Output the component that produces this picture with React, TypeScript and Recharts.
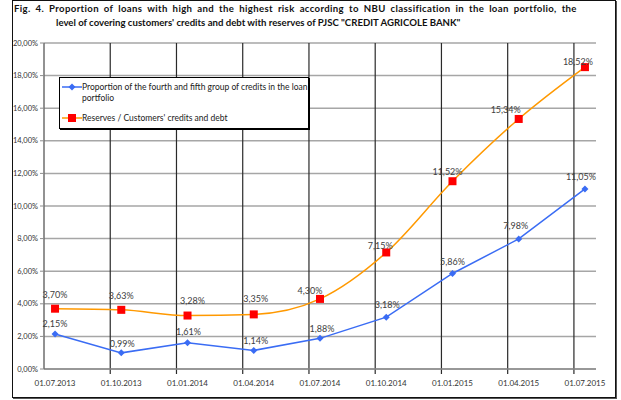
import React from "react";
import {
  LineChart,
  Line,
  XAxis,
  YAxis,
  CartesianGrid,
  ReferenceLine,
  LabelList,
} from "recharts";

const dates = [
  "01.07.2013",
  "01.10.2013",
  "01.01.2014",
  "01.04.2014",
  "01.07.2014",
  "01.10.2014",
  "01.01.2015",
  "01.04.2015",
  "01.07.2015",
];
const problemShare = [2.15, 0.99, 1.61, 1.14, 1.88, 3.18, 5.86, 7.98, 11.05];
const reserveRatio = [3.7, 3.63, 3.28, 3.35, 4.3, 7.15, 11.52, 15.34, 18.52];
const yTicks = [0, 2, 4, 6, 8, 10, 12, 14, 16, 18, 20];

const TITLE_1 = "Fig. 4. Proportion of loans with high and the highest risk according to NBU classification in the loan portfolio, the";
const TITLE_2 = "level of covering customers' credits and debt with reserves of PJSC \"CREDIT AGRICOLE BANK\"";
const SERIES_A = "Proportion of the fourth and fifth group of credits in the loan portfolio";
const SERIES_B = "Reserves / Customers' credits and debt";

// label nudges (px) relative to each point, to mimic the hand-placed Excel labels
const blueShift = [[0, -9], [1, -8], [1, -10], [2, -9], [2, -9], [1, -11], [0, -11], [-3, -12], [-4, -11]];
const orangeShift = [[0, -13], [0, -13], [5, -14], [2, -15], [-10, -7], [-6, -6], [-5, -9], [-13, -8], [-7, -4]];

const data = dates.map((d, i) => ({
  idx: i,
  date: d,
  a: problemShare[i],
  b: reserveRatio[i],
}));

const FONT = "Lato, 'Liberation Sans', sans-serif";
const pct = (v: number) => v.toFixed(2).replace(".", ",") + "%";
const off = 1 / 6;

const Diamond = (props: any) => {
  const { cx, cy } = props;
  if (cx == null || cy == null) return null;
  return <path d={`M${cx},${cy - 3.5}L${cx + 3.5},${cy}L${cx},${cy + 3.5}L${cx - 3.5},${cy}Z`} fill="#3a6cf4" />;
};

const Square = (props: any) => {
  const { cx, cy } = props;
  if (cx == null || cy == null) return null;
  return <rect x={cx - 4} y={cy - 4} width={8} height={8} fill="#ff0000" />;
};

const makeLabel = (shift: number[][]) => (props: any) => {
  const { x, y, index, value } = props;
  const [dx, dy] = shift[index] || [0, -10];
  return (
    <text
      x={x + dx}
      y={y + dy}
      textAnchor="middle"
      dominantBaseline="middle"
      fontSize={9}
      fontFamily={FONT}
      fill="#404040"
    >
      {pct(value)}
    </text>
  );
};

const LegendBox = () => (
  <div
    style={{
      position: "absolute",
      left: 59,
      top: 77,
      width: 250,
      height: 52,
      border: "1px solid #000",
      boxShadow: "1px 1px 0 #000",
      background: "#fff",
      fontFamily: FONT,
      fontSize: 8.5,
      color: "#222",
      boxSizing: "border-box",
    }}
  >
    <svg width={22} height={50} style={{ position: "absolute", left: 1, top: 0 }}>
      <line x1={1} y1={9} x2={21} y2={9} stroke="#3a6cf4" strokeWidth={1.5} />
      <path d="M11,5.5L14.5,9L11,12.5L7.5,9Z" fill="#3a6cf4" />
      <line x1={1} y1={40} x2={21} y2={40} stroke="#ff9900" strokeWidth={1.5} />
      <rect x={7} y={36} width={8} height={8} fill="#ff0000" />
    </svg>
    <div style={{ position: "absolute", left: 22, top: 4, width: 226, lineHeight: "11px" }}>{SERIES_A}</div>
    <div style={{ position: "absolute", left: 22, top: 35, lineHeight: "11px" }}>{SERIES_B}</div>
  </div>
);

const titleStyle: React.CSSProperties = {
  position: "absolute",
  fontFamily: FONT,
  fontWeight: 700,
  fontSize: 9.6,
  lineHeight: "13px",
  color: "#111",
  whiteSpace: "nowrap",
};

export default function App() {
  return (
    <div style={{ position: "absolute", left: 0, top: 0, width: 621, height: 400, background: "#fff" }}>
      <div
        style={{
          position: "absolute",
          left: 12,
          top: 0,
          width: 602,
          height: 396,
          border: "1.5px solid #111",
          boxShadow: "1px 1px 0 #555",
        }}
      />
      <div style={{ ...titleStyle, left: 14, top: 2, letterSpacing: 0.35, wordSpacing: 2.3 }}>{TITLE_1}</div>
      <div style={{ ...titleStyle, left: 56, top: 16 }}>{TITLE_2}</div>
      <LineChart
        width={621}
        height={400}
        data={data}
        margin={{ top: 43, right: 25, bottom: 11, left: 10 }}
        style={{ position: "absolute", left: 0, top: 0 }}
      >
        <CartesianGrid vertical={false} stroke="#a6a6a6" strokeWidth={1.5} />
        {dates.slice(1).map((d, i) => (
          <ReferenceLine
            key={d}
            segment={[
              { x: i + 1 - off, y: -0.3 },
              { x: i + 1 - off, y: 20 },
            ]}
            stroke="#2a2a2a"
            strokeWidth={1.2}
            ifOverflow="visible"
          />
        ))}
        <XAxis
          dataKey="idx"
          type="number"
          domain={[-off, 8 + off]}
          ticks={dates.map((_, i) => i)}
          tickFormatter={(v: number) => dates[v] ?? ""}
          tickLine={false}
          axisLine={{ stroke: "#8c8c8c", strokeWidth: 1.5 }}
          tick={{ fontSize: 8, fontFamily: FONT, fill: "#333" }}
          tickMargin={5}
          height={20}
          allowDataOverflow
        />
        <YAxis
          type="number"
          domain={[0, 20]}
          ticks={yTicks}
          tickFormatter={pct}
          width={34}
          tickSize={4}
          tickLine={{ stroke: "#8c8c8c" }}
          axisLine={{ stroke: "#6e6e6e", strokeWidth: 1.5 }}
          tick={{ fontSize: 7.5, fontFamily: FONT, fill: "#333" }}
          tickMargin={2}
        />
        <Line
          name={SERIES_A}
          dataKey="a"
          type="linear"
          stroke="#3a6cf4"
          strokeWidth={1.5}
          dot={<Diamond />}
          activeDot={false}
          isAnimationActive={false}
        >
          <LabelList dataKey="a" content={makeLabel(blueShift)} />
        </Line>
        <Line
          name={SERIES_B}
          dataKey="b"
          type="monotone"
          stroke="#ff9900"
          strokeWidth={1.5}
          dot={<Square />}
          activeDot={false}
          isAnimationActive={false}
        >
          <LabelList dataKey="b" content={makeLabel(orangeShift)} />
        </Line>
      </LineChart>
      <LegendBox />
    </div>
  );
}
